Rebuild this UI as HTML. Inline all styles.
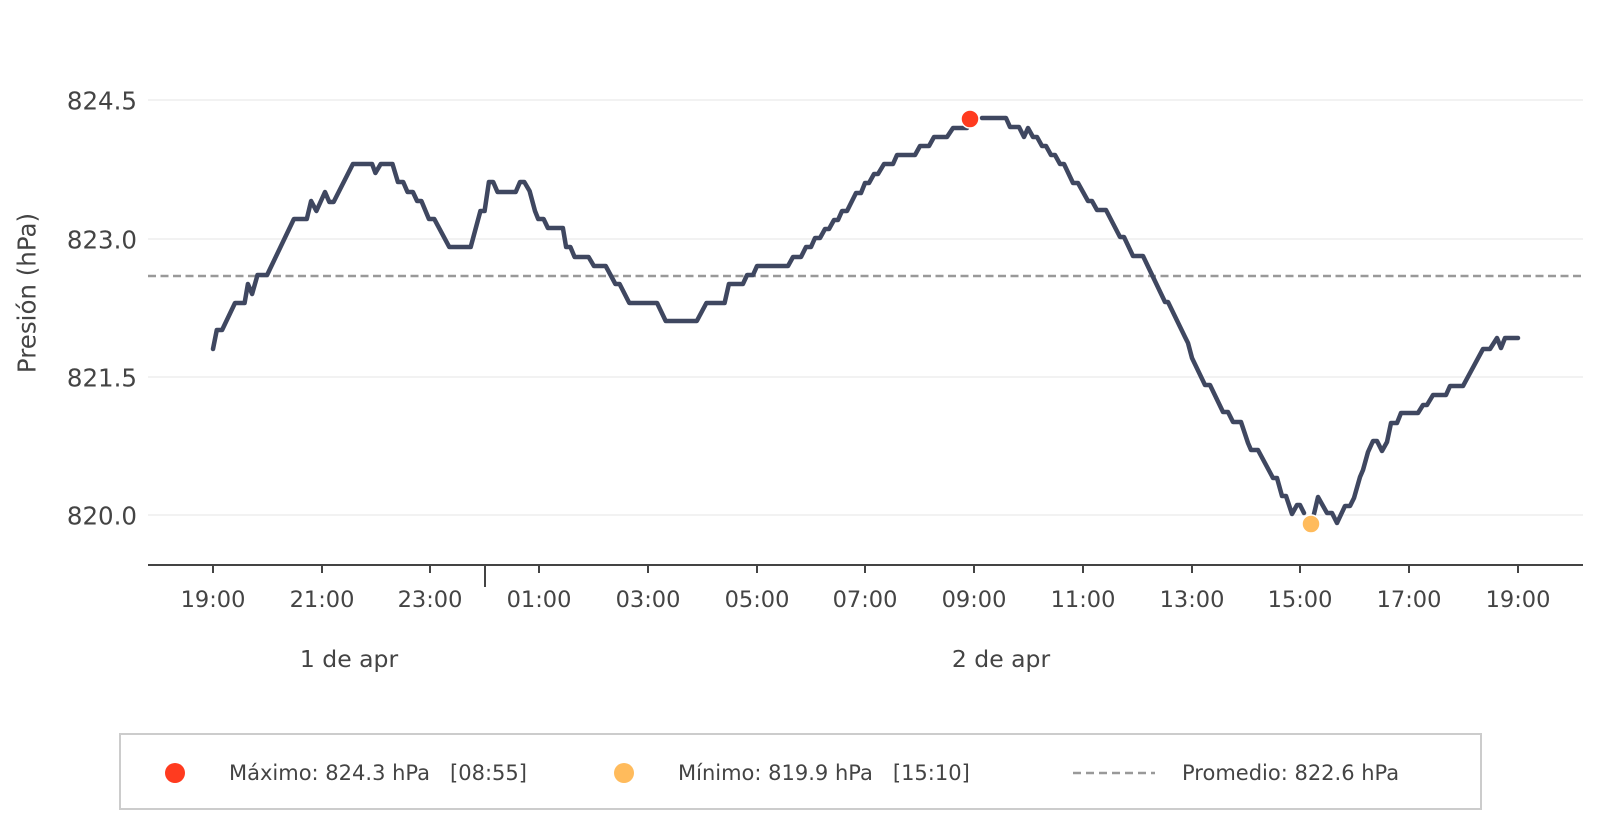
<!DOCTYPE html>
<html><head><meta charset="utf-8"><style>
html,body{margin:0;padding:0;background:#fff;}
svg{display:block;font-family:"DejaVu Sans","Liberation Sans",sans-serif;}
.pre{white-space:pre;}
</style></head><body>
<svg width="1601" height="828" viewBox="0 0 1601 828" xmlns="http://www.w3.org/2000/svg">
<g stroke="#eeeeee" stroke-width="1.5">
<line x1="148" y1="100" x2="1583" y2="100"/>
<line x1="148" y1="239" x2="1583" y2="239"/>
<line x1="148" y1="377" x2="1583" y2="377"/>
<line x1="148" y1="515" x2="1583" y2="515"/>
</g>
<g fill="#444" font-size="24.5" text-anchor="end" dominant-baseline="central">
<text x="137" y="101">824.5</text>
<text x="137" y="240">823.0</text>
<text x="137" y="378">821.5</text>
<text x="137" y="516">820.0</text>
</g>
<text x="27" y="293" fill="#444" font-size="24.5" text-anchor="middle" dominant-baseline="central" transform="rotate(-90 27 293)">Presión (hPa)</text>
<line x1="148" y1="276" x2="1583" y2="276" stroke="#999" stroke-width="2.5" stroke-dasharray="8,4.5"/>
<line x1="148" y1="565" x2="1583" y2="565" stroke="#444" stroke-width="2"/>
<g stroke="#444" stroke-width="2">
<line x1="213" y1="565" x2="213" y2="573"/><line x1="322" y1="565" x2="322" y2="573"/>
<line x1="430" y1="565" x2="430" y2="573"/><line x1="485" y1="565" x2="485" y2="587"/>
<line x1="539" y1="565" x2="539" y2="573"/><line x1="648" y1="565" x2="648" y2="573"/>
<line x1="757" y1="565" x2="757" y2="573"/><line x1="865" y1="565" x2="865" y2="573"/>
<line x1="974" y1="565" x2="974" y2="573"/><line x1="1083" y1="565" x2="1083" y2="573"/>
<line x1="1192" y1="565" x2="1192" y2="573"/><line x1="1300" y1="565" x2="1300" y2="573"/>
<line x1="1409" y1="565" x2="1409" y2="573"/><line x1="1518" y1="565" x2="1518" y2="573"/>
</g>
<g fill="#444" font-size="22.5" text-anchor="middle" dominant-baseline="central">
<text x="213" y="600">19:00</text><text x="322" y="600">21:00</text><text x="430" y="600">23:00</text>
<text x="539" y="600">01:00</text><text x="648" y="600">03:00</text><text x="757" y="600">05:00</text>
<text x="865" y="600">07:00</text><text x="974" y="600">09:00</text><text x="1083" y="600">11:00</text>
<text x="1192" y="600">13:00</text><text x="1300" y="600">15:00</text><text x="1409" y="600">17:00</text>
<text x="1518" y="600">19:00</text>
</g>
<g fill="#444" font-size="23.5" text-anchor="middle" dominant-baseline="central">
<text x="349" y="659">1 de apr</text><text x="1001" y="659">2 de apr</text>
</g>
<polyline fill="none" stroke="#3f4760" stroke-width="4.5" stroke-linejoin="round" stroke-linecap="round" points="
213,349 216.8,330 222.1,330 235,303 244.6,303 247.9,284 252.1,294 257.5,275 267.1,275 293.9,219 306.8,219 311.1,201 316.4,211 325,192 329.3,202 333.6,202 352.9,164 372.1,164 375.4,173 380.7,164 392.5,164 397.9,182 403.2,182 407.5,192 412.9,192 417.1,201 421.4,201 428.9,219 434.3,219 449.3,247 470.7,247 480.4,211 484.6,211 488.9,182 493.2,182 497.5,192 515.7,192 520,182 524.3,182 529.6,191 535,211 538.2,219 543.6,219 547.9,228 562.9,228 566.1,247 570.4,247 574.6,257 588.6,257 593.9,266 605.7,266 615.4,284 619.6,284 629.3,303 657.1,303 665.7,321 696.8,321 706.4,303 724.6,303 728.9,284 742.9,284 747.1,275 753,275 757,266 788,266 793,257 801,257 806,247 811,247 815,238 820,238 825,229 829,229 834,220 838,220 842,211 847,211 856,193 861,193 865,183 869,183 874,174 878,174 884,164 893,164 897,155 915,155 920,146 929,146 934,137 947,137 953,128 967,128"/>
<polyline fill="none" stroke="#3f4760" stroke-width="4.5" stroke-linejoin="round" stroke-linecap="round" points="
982,118 1006,118 1010,127 1019,127 1024,137 1028,128 1033,137 1037,137 1042,146 1046,146 1051,155 1055,155 1060,164 1064,164 1073,183 1078,183 1088,201 1092,201 1097,210 1106,210 1120,237 1124,237 1133,256 1143,256 1165,302 1168,302 1185,337 1188,343 1192,358 1205,385 1210,385 1223,412 1228,412 1233,422 1241,422 1248,443 1251,450 1258,450 1273,478 1277,478 1282,496 1286,496 1292,514 1297,505 1300,505 1304,513"/>
<polyline fill="none" stroke="#3f4760" stroke-width="4.5" stroke-linejoin="round" stroke-linecap="round" points="
1314,514 1318,497 1327,513 1332,513 1337,523 1345,506 1350,506 1354,498 1360,477 1363,470 1368,452 1373,441 1377,441 1382,451 1387,442 1391,423 1397,423 1401,413 1418,413 1423,405 1427,405 1433,395 1446,395 1450,386 1463,386 1483,349 1490,349 1497,338 1501,348 1505,338 1518,338"/>
<circle cx="970" cy="119" r="9" fill="#ff3b1f" stroke="#fff" stroke-width="1.5"/>
<circle cx="1311" cy="524" r="9" fill="#ffbb5c" stroke="#fff" stroke-width="1.5"/>
<rect x="120" y="734" width="1361" height="75" fill="#fff" stroke="#cccccc" stroke-width="2"/>
<circle cx="175" cy="773" r="10" fill="#ff3b1f"/>
<circle cx="624" cy="773" r="10" fill="#ffbb5c"/>
<line x1="1073" y1="773" x2="1155" y2="773" stroke="#999" stroke-width="2.5" stroke-dasharray="8,5"/>
<g fill="#444" font-size="21" dominant-baseline="central">
<text class="pre" x="229" y="773">Máximo: 824.3 hPa   [08:55]</text>
<text class="pre" x="678" y="773">Mínimo: 819.9 hPa   [15:10]</text>
<text x="1182" y="773">Promedio: 822.6 hPa</text>
</g>
</svg>
</body></html>
